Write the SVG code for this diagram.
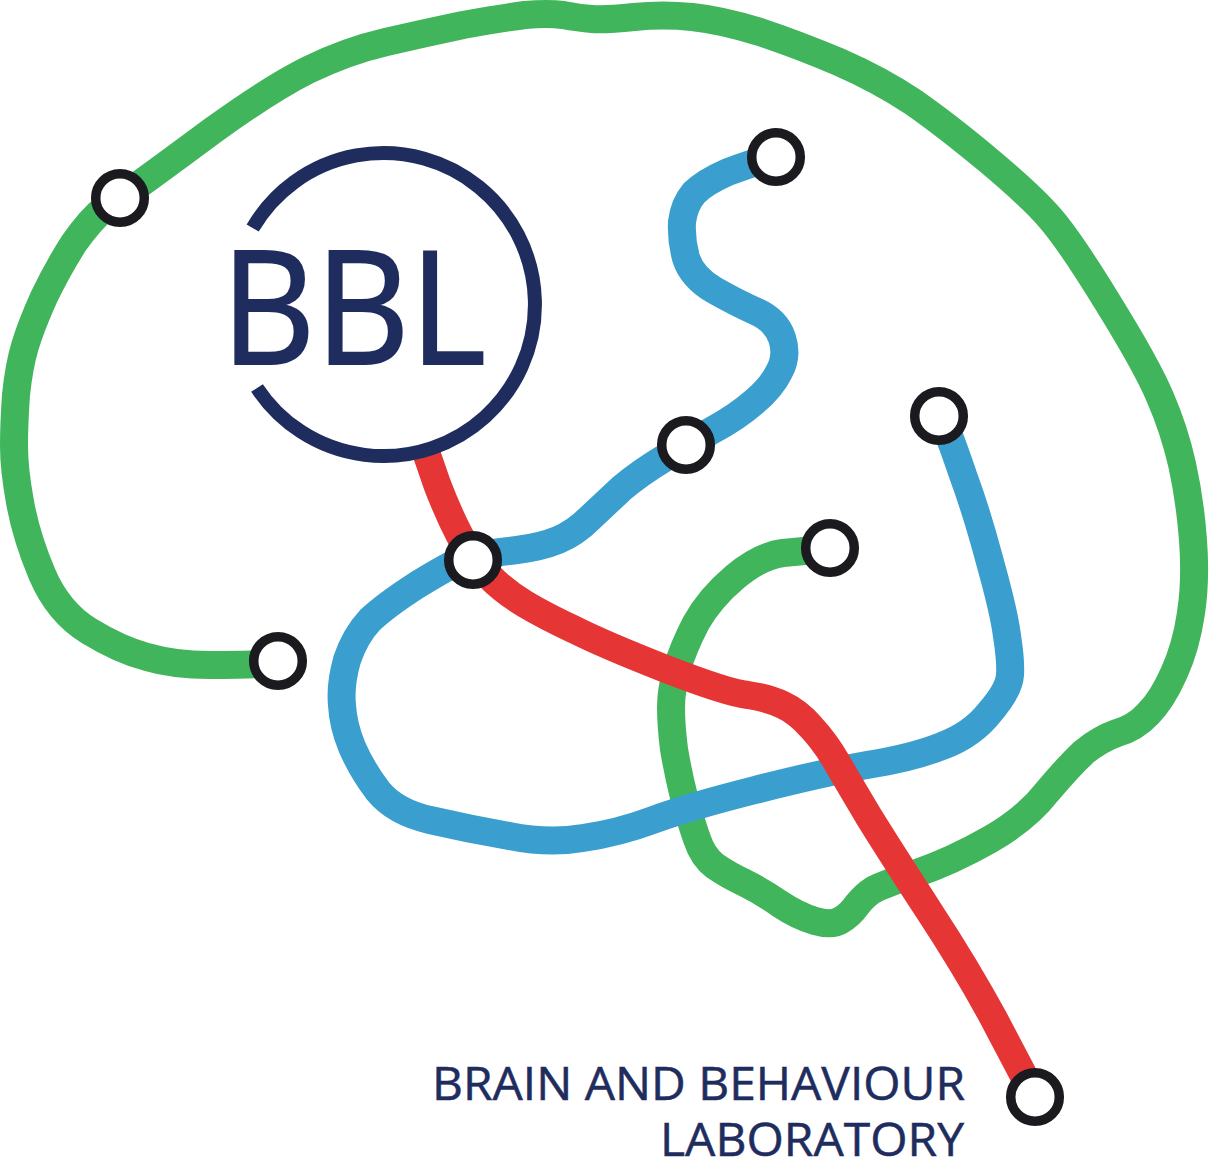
<svg xmlns="http://www.w3.org/2000/svg" width="1211" height="1167" viewBox="0 0 1211 1167">
<style>
.c{fill:none;stroke-width:28;stroke-linecap:butt;stroke-linejoin:round}
.g{stroke:#41b55c}.b{stroke:#3a9fce}.r{stroke:#e53535}
.n{fill:#fff;stroke:#1a1a1f;stroke-width:9.5}
.t{font-family:"Open Sans","Noto Sans",sans-serif;fill:#1f2c5e;stroke:#1f2c5e}
</style>
<rect width="1211" height="1167" fill="#fff"/>
<g id="connectors">
<path class="c g" d="M278 662L262 664Q247 665 210 665Q174 665 147 657Q120 650 89 631Q58 612 42 574Q26 536 20 502Q14 469 14 446Q14 424 16 395Q19 366 25 346Q31 326 44 297Q58 268 74 243Q91 219 105 208Q120 198 137 186Q154 174 212 131Q270 89 308 70Q347 51 386 42Q425 33 463 25Q502 18 525 15Q548 13 563 15Q579 18 592 19Q605 20 634 17Q663 14 692 17Q721 20 760 32Q799 45 839 62Q880 80 913 102Q946 125 988 160Q1031 196 1050 218Q1070 241 1108 303Q1147 366 1160 397Q1174 429 1182 464Q1190 500 1193 540Q1196 580 1191 613Q1186 647 1174 673Q1162 700 1148 714Q1135 728 1117 733Q1100 739 1084 752Q1069 766 1047 792Q1026 819 989 840Q952 861 917 873Q882 885 873 890Q865 895 857 905Q850 915 841 920Q832 926 815 921Q798 916 780 904Q763 892 745 883Q728 875 715 866Q703 857 697 839Q691 822 684 797Q678 773 674 749Q671 725 671 707Q671 690 677 669Q683 648 696 623Q710 598 735 577Q760 556 783 553Q806 551 830 548"/>
<path class="c b" d="M776 157L764 160Q752 163 728 172Q705 182 694 193Q684 205 682 222Q681 240 686 258Q692 277 714 290Q737 303 755 311Q776 320 782 338Q788 356 779 372Q771 388 754 402Q737 417 711 431Q686 445 663 459Q640 473 622 488Q605 504 590 518Q575 533 558 540Q541 547 517 550Q494 553 483 554Q473 556 460 561Q448 566 417 585Q386 605 370 620Q355 636 347 660Q340 685 342 705Q343 725 352 747Q362 770 378 791Q395 812 430 820Q469 829 509 836Q549 844 583 838Q618 833 653 820Q688 807 755 790Q822 773 867 765Q912 758 942 746Q972 735 990 712Q1009 690 1010 675Q1011 661 1007 636Q1004 612 990 562Q977 513 963 475Q950 437 945 426L939 416"/>
<path class="c r" d="M427 455L437 484Q448 513 460 536Q473 560 489 576Q505 592 525 604Q545 616 575 630Q605 645 666 669Q728 693 748 695Q768 698 783 705Q798 712 811 727Q825 742 836 761Q847 780 869 817Q892 854 929 911Q967 969 994 1019Q1021 1070 1035 1097"/>
</g>
<path id="ring" d="M252.7 228A151.5 151.5 0 1 1 257 388" fill="none" stroke="#1f2c5e" stroke-width="14"/>
<text id="bbl" class="t" x="221" y="364" font-size="158" stroke-width="2" textLength="265" lengthAdjust="spacingAndGlyphs">BBL</text>
<g id="n1"><circle class="n" cx="120" cy="198" r="24.3"/></g>
<g id="n2"><circle class="n" cx="278" cy="661" r="24.3"/></g>
<g id="n3"><circle class="n" cx="776" cy="157" r="24.3"/></g>
<g id="n4"><circle class="n" cx="686" cy="445" r="24.3"/></g>
<g id="n5"><circle class="n" cx="939" cy="416" r="24.3"/></g>
<g id="n6"><circle class="n" cx="830" cy="548" r="24.3"/></g>
<g id="n7"><circle class="n" cx="473" cy="560" r="24.3"/></g>
<g id="n8"><circle class="n" cx="1035" cy="1097" r="24.3"/></g>
<g id="label" class="t" font-size="45" stroke-width="0.5">
<text x="432" y="1100" textLength="533" lengthAdjust="spacingAndGlyphs">BRAIN AND BEHAVIOUR</text>
<text x="660" y="1156" textLength="304" lengthAdjust="spacingAndGlyphs">LABORATORY</text>
</g>
</svg>
